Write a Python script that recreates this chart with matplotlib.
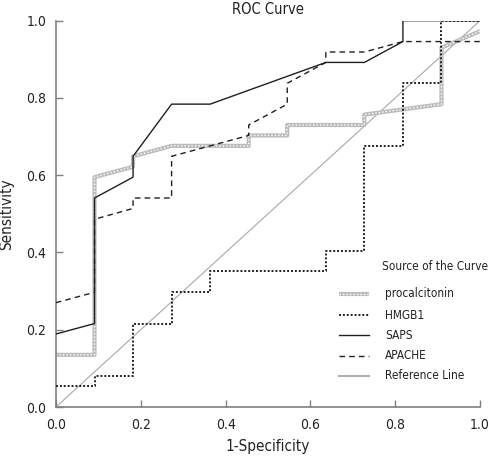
import matplotlib
matplotlib.use("Agg")
import matplotlib.pyplot as plt
import matplotlib.font_manager as fm

# try to find a condensed / narrow sans font
cand = None
for f in fm.fontManager.ttflist:
    fn = f.fname.lower()
    if ('condensed' in fn or 'narrow' in fn or f.stretch == 'condensed') and not any(k in fn for k in ['bold', 'oblique', 'italic', 'light', 'thin', 'black', 'medium', 'semi', 'extra']):
        cand = f
        break
if cand is not None:
    plt.rcParams['font.family'] = [cand.name, 'DejaVu Sans']
    if cand.stretch == 'condensed':
        plt.rcParams['font.stretch'] = 'condensed'
    found = True
else:
    plt.rcParams['font.family'] = ['Liberation Sans', 'DejaVu Sans']
    found = False

# ROC data (x = 1-specificity, y = sensitivity)
proc_x = [0, 0.0909, 0.0909, 0.1818, 0.1818, 0.2727, 0.4545, 0.4545, 0.5454, 0.5454, 0.7273, 0.7273, 0.9091, 0.9091, 1.0]
proc_y = [0.135, 0.135, 0.595, 0.622, 0.649, 0.676, 0.676, 0.703, 0.703, 0.730, 0.730, 0.757, 0.784, 0.930, 0.973]

hmgb_x = [0, 0.0909, 0.0909, 0.1818, 0.1818, 0.2727, 0.2727, 0.3636, 0.3636, 0.6364, 0.6364, 0.7273, 0.7273, 0.8182, 0.8182, 0.9091, 0.9091, 1.0]
hmgb_y = [0.054, 0.054, 0.081, 0.081, 0.216, 0.216, 0.297, 0.297, 0.351, 0.351, 0.405, 0.405, 0.676, 0.676, 0.838, 0.838, 1.0, 1.0]

saps_x = [0, 0.0909, 0.0909, 0.1818, 0.1818, 0.2727, 0.3636, 0.6364, 0.7273, 0.8182, 0.8182, 1.0]
saps_y = [0.189, 0.216, 0.541, 0.595, 0.649, 0.784, 0.784, 0.892, 0.892, 0.946, 1.0, 1.0]

apache_x = [0, 0.0909, 0.0909, 0.1818, 0.1818, 0.2727, 0.2727, 0.4545, 0.4545, 0.5454, 0.5454, 0.6364, 0.6364, 0.7273, 0.8182, 1.0]
apache_y = [0.270, 0.297, 0.486, 0.514, 0.541, 0.541, 0.649, 0.703, 0.730, 0.784, 0.838, 0.892, 0.919, 0.919, 0.946, 0.946]

ref_x = [0, 1]
ref_y = [0, 1]

ticks = [0.0, 0.2, 0.4, 0.6, 0.8, 1.0]
tick_labels = ['0.0', '0.2', '0.4', '0.6', '0.8', '1.0']
series_labels = ['procalcitonin', 'HMGB1', 'SAPS', 'APACHE', 'Reference Line']
legend_title = 'Source of the Curve'

fig = plt.figure(figsize=(4.91, 4.57), dpi=100)
ax = fig.add_axes([0.114, 0.1094, 0.8636, 0.8453])

axc = '#808080'
tc = '#222222'
styles = [
    [dict(color='#bcbcbc', lw=3.0, solid_capstyle='butt'), dict(color='white', lw=1.0, ls=(0, (1, 1.5)))],
    [dict(color='#202020', lw=1.4, ls=(0, (1, 1)))],
    [dict(color='#202020', lw=1.0)],
    [dict(color='#202020', lw=1.0, ls=(0, (4, 3)))],
    [dict(color='#a8a8a8', lw=0.8)],
]
data = [(proc_x, proc_y), (hmgb_x, hmgb_y), (saps_x, saps_y), (apache_x, apache_y), (ref_x, ref_y)]
zorders = [2, 3, 4, 4, 1]
for (xs, ys), st, z in zip(data, styles, zorders):
    for k, s in enumerate(st):
        ax.plot(xs, ys, zorder=z + 0.1 * k, **s)

ax.set_xlim(0, 1)
ax.set_ylim(0, 1)
for s in ['top', 'right']:
    ax.spines[s].set_visible(False)
for s in ['left', 'bottom']:
    ax.spines[s].set_color(axc)
    ax.spines[s].set_linewidth(1.2)
ax.set_xticks(ticks)
ax.set_xticklabels(tick_labels)
ax.set_yticks(ticks)
ax.set_yticklabels(tick_labels)
fs_tick = 10
fs_lab = 11 if found else 10.5
fs_title = 10.5
fs_leg = 8.5 if found else 8.5
fs_legt = 8.5 if found else 8.0
ax.tick_params(direction='in', length=5, width=1.0, color=axc, labelsize=fs_tick, labelcolor=tc)
ax.tick_params(axis='x', pad=8)
ax.tick_params(axis='y', pad=7)

ax.set_xlabel('1-Specificity', fontsize=fs_lab, color=tc, labelpad=5)
ax.set_ylabel('Sensitivity', fontsize=fs_lab, color=tc, labelpad=9)
ax.set_title('ROC Curve', fontsize=fs_title, color=tc, pad=5)

# legend drawn in axes coordinates
lx0, lx1, tx = 0.667, 0.738, 0.776
ax.text(1.02, 0.364, legend_title, transform=ax.transAxes, fontsize=fs_legt, color=tc, va='center', ha='right')
row_y = [0.293, 0.238, 0.186, 0.133, 0.081]
for st, lab, yy in zip(styles, series_labels, row_y):
    for s in st:
        s2 = dict(s)
        if lab == 'Reference Line':
            s2['lw'] = 1.5
            s2['color'] = '#b0b0b0'
        ax.plot([lx0, lx1], [yy, yy], transform=ax.transAxes, clip_on=False, **s2)
    ax.text(tx, yy, lab, transform=ax.transAxes, fontsize=fs_leg, color=tc, va='center', ha='left')

fig.savefig('out.png', dpi=100)
